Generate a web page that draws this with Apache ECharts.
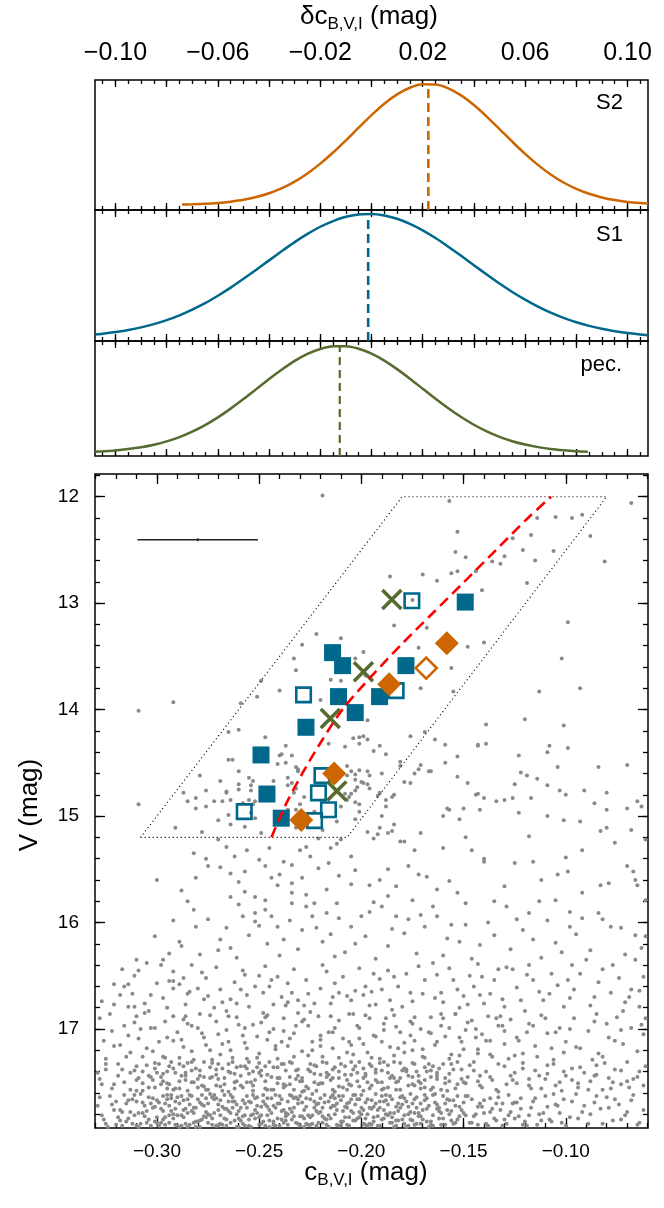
<!DOCTYPE html>
<html>
<head>
<meta charset="utf-8">
<script src="https://cdn.jsdelivr.net/npm/echarts@6/dist/echarts.min.js"></script>
<style>
html, body { margin: 0; padding: 0; background: #fff; }
#chart { width: 664px; height: 1208px; }
</style>
</head>
<body>
<div id="chart"></div>
<script>
// ---------- data ----------

// delta c (mag) distributions, normalised to peak = 1
const s2X = [-0.074, -0.07, -0.065, -0.06, -0.055, -0.05, -0.045, -0.04, -0.035, -0.03, -0.025, -0.02, -0.015, -0.01,
  -0.005, 0, 0.005, 0.01, 0.015, 0.02, 0.025, 0.03, 0.035, 0.04, 0.045, 0.05, 0.055, 0.06, 0.065, 0.07, 0.075, 0.08,
  0.085, 0.09, 0.095, 0.10, 0.105, 0.108]
const s2Y = [0.004, 0.006, 0.010, 0.017, 0.028, 0.043, 0.066, 0.097, 0.139, 0.194, 0.261, 0.342, 0.434, 0.535,
  0.640, 0.743, 0.837, 0.914, 0.969, 0.997, 0.995, 0.964, 0.906, 0.826, 0.731, 0.628, 0.523, 0.423, 0.332, 0.252, 0.186, 0.134,
  0.093, 0.063, 0.041, 0.026, 0.016, 0.012]
const s1X = [-0.108, -0.105, -0.10, -0.095, -0.09, -0.085, -0.08, -0.075, -0.07, -0.065, -0.06, -0.055, -0.05, -0.045,
  -0.04, -0.035, -0.03, -0.025, -0.02, -0.015, -0.01, -0.005, 0, 0.005, 0.01, 0.015, 0.02, 0.025, 0.03, 0.035, 0.04,
  0.045, 0.05, 0.055, 0.06, 0.065, 0.07, 0.075, 0.08, 0.085, 0.09, 0.095, 0.10, 0.105, 0.108]
const s1Y = [0.029, 0.035, 0.048, 0.064, 0.086, 0.112, 0.144, 0.183, 0.229, 0.281, 0.341, 0.406, 0.477, 0.551,
  0.626, 0.701, 0.773, 0.839, 0.897, 0.943, 0.977, 0.996, 1.000, 0.988, 0.961, 0.920, 0.868, 0.806, 0.736, 0.663, 0.587,
  0.512, 0.439, 0.371, 0.309, 0.253, 0.204, 0.162, 0.127, 0.098, 0.074, 0.055, 0.041, 0.029, 0.024]
const pecX = [-0.108, -0.105, -0.10, -0.095, -0.09, -0.085, -0.08, -0.075, -0.07, -0.065, -0.06, -0.055, -0.05, -0.045,
  -0.04, -0.035, -0.03, -0.025, -0.02, -0.015, -0.01, -0.005, 0, 0.005, 0.01, 0.015, 0.02, 0.025, 0.03, 0.035, 0.04,
  0.045, 0.05, 0.055, 0.06, 0.065, 0.07, 0.075, 0.08, 0.0845]
const pecY = [0.012, 0.016, 0.024, 0.037, 0.054, 0.078, 0.109, 0.149, 0.200, 0.261, 0.333, 0.415, 0.504, 0.597,
  0.691, 0.780, 0.861, 0.926, 0.972, 0.997, 0.997, 0.974, 0.928, 0.863, 0.784, 0.695, 0.601, 0.507, 0.418, 0.336, 0.264,
  0.202, 0.151, 0.110, 0.079, 0.055, 0.037, 0.025, 0.016, 0.011]
const peakCentres = [0.0222, -0.0013, -0.0124]
const panelNames = ['S2', 'S1', 'pec.']

const topLabels = [-0.10, -0.06, -0.02, 0.02, 0.06, 0.10]
const cLabels = [-0.30, -0.25, -0.20, -0.15, -0.10]
const vLabels = [12, 13, 14, 15, 16, 17]

// field stars: c_BVI in 1e-3 mag, V in 1e-2 mag, pairs
const fieldStars = [
  // bright part, V < 15.4
  -219,1199,-157,1204,-68,1206,-114,1220,-105,1219,-97,1220,-92,1217,-153,1233,-126,1239,-117,1236,-88,1237,
  -154,1252,-149,1257,-121,1250,-106,1251,-136,1261,-132,1263,-130,1256,-115,1260,-81,1261,-156,1272,-153,1270,
  -144,1270,-170,1273,-163,1279,-186,1275,-119,1281,-141,1288,-175,1297,-99,1318,-184,1321,-168,1323,-222,1329,
  -229,1339,-140,1337,-172,1342,-148,1341,-210,1333,-233,1352,-232,1363,-102,1352,-215,1372,-210,1373,-249,1373,
  -198,1368,-171,1380,-240,1382,-155,1383,-113,1383,-93,1380,-251,1388,-259,1394,-292,1393,-309,1401,-220,1391,
  -207,1395,-197,1410,-120,1409,-101,1415,-139,1414,-260,1419,-265,1421,-247,1426,-204,1427,-201,1426,-208,1435,
  -176,1425,-169,1421,-191,1434,-159,1433,-143,1434,-139,1432,-108,1434,-99,1436,-237,1434,-188,1442,-153,1444,
  -123,1443,-109,1440,-265,1447,-263,1447,-240,1443,-234,1443,-241,1451,-181,1449,-181,1453,-190,1460,-171,1452,
  -166,1458,-84,1454,-104,1454,-153,1463,-122,1459,-260,1458,-279,1462,-232,1454,-231,1458,-207,1453,-201,1457,
  -197,1458,-196,1462,-207,1462,-203,1466,-269,1467,-260,1470,-254,1471,-236,1464,-236,1471,-200,1468,-197,1470,
  -176,1469,-119,1462,-125,1470,-114,1465,-109,1471,-103,1476,-100,1480,-91,1476,-80,1478,-70,1452,-276,1476,
  -287,1478,-285,1486,-281,1483,-272,1486,-268,1486,-266,1478,-254,1476,-252,1486,-233,1478,-228,1482,-208,1479,
  -206,1482,-203,1476,-192,1481,-184,1480,-144,1480,-140,1483,-134,1486,-130,1485,-126,1483,-117,1483,-86,1488,
  -80,1494,-70,1493,-65,1486,-63,1491,-309,1489,-281,1493,-276,1491,-265,1499,-270,1504,-257,1510,-291,1511,
  -278,1515,-254,1497,-236,1494,-232,1505,-201,1496,-190,1500,-157,1494,-150,1493,-142,1494,-123,1497,-109,1500,
  -101,1504,-93,1505,-80,1511,-68,1513,-61,1522,-191,1511,-187,1516,-194,1521,-181,1524,-171,1516,-149,1520,
  -118,1519,-83,1514,-92,1532,-100,1539,-140,1540,-146,1532,-160,1530,-174,1532,-179,1524,-185,1514,-215,1530,
  -219,1513,-210,1522,-205,1538,-230,1532,-225,1538,-245,1530,-250,1541,-256,1532,-262,1538,-266,1529,-270,1522,
  -282,1535,-276,1540,-76,1525,-199,1346,-203,1352,
  -155,1337,-156,1361,-199,1425,-197,1428,-201,1432,-194,1439,-216,1432,-239,1442,-231,1456,-237,1450,-255,1464,
  -260,1475,-253,1467,-243,1467,-234,1469,-232,1474,-258,1488,-255,1485,-253,1489,-264,1485,-266,1477,-205,1458,
  -203,1461,-199,1469,-202,1473,-205,1479,-207,1485,-203,1487,-201,1489,-196,1474,-191,1478,-188,1485,-174,1460,
  -172,1456,-179,1468,-185,1482,-188,1491,-210,1491,-230,1489,-232,1494,-223,1496,-212,1505,-203,1503,-197,1515,
  -192,1517,-184,1508,-252,1502,-264,1508,-249,1516,-232,1511,-227,1529,-221,1521,-212,1526,-160,1500,-152,1503,
  -143,1433,-143,1479,-167,1458,-148,1469,-159,1450,-158,1493,-164,1428,
  // 15.4 - 15.8
  -300,1560,-281,1558,-275,1547,-269,1548,-264,1554,-257,1552,-247,1547,-244,1558,-240,1555,-234,1546,-234,1563,
  -221,1549,-216,1544,-211,1556,-205,1564,-196,1565,-187,1550,-177,1547,-172,1555,-168,1557,-163,1569,-140,1543,
  -125,1544,-116,1543,-112,1560,-104,1555,-99,1552,-83,1565,-79,1563,-70,1547,-67,1552,-65,1565,-61,1579,-264,1576,
  -257,1571,-252,1576,-247,1579,-241,1565,-234,1572,-227,1574,-217,1569,-194,1581,-187,1575,-175,1579,-153,1572,
  -149,1582,-135,1580,-113,1580,-105,1579,-66,1560,-229,1558,-203,1551,-191,1560,-183,1566,-238,1543,-260,1562,
  -288,1570,-157,1561,-130,1566,-92,1572,
  // 15.8 - 16.35
  -285,1580,-282,1588,-281,1604,-289,1618,-288,1622,-294,1629,-297,1635,-305,1638,-310,1635,-269,1616,-270,1626,
  -264,1624,-260,1583,-258,1594,-252,1591,-252,1599,-247,1588,-244,1594,-241,1604,-238,1616,-234,1582,-227,1585,
  -224,1594,-229,1607,-222,1605,-217,1591,-212,1582,-211,1596,-205,1604,-200,1594,-196,1590,-190,1585,-183,1594,
  -177,1597,-171,1593,-169,1604,-163,1594,-158,1615,-152,1618,-149,1602,-142,1621,-135,1612,-129,1585,-124,1597,
  -118,1591,-116,1616,-105,1619,-98,1604,-95,1611,-88,1626,-78,1604,-61,1613,-84,1591,-98,1590,-82,1597,-73,1605,
  -66,1612,-165,1585,-223,1582,-275,1597,-266,1605,-255,1612,-246,1620,-231,1625,-219,1618,-208,1628,-198,1613,
  -187,1622,-179,1610,-173,1629,-160,1631,-146,1634,-138,1600,-127,1625,-112,1633,-102,1628,-92,1596,-71,1630,
  -63,1624,-279,1630,-261,1633,-240,1631,-213,1632,-193,1634,-301,1613,-292,1598,-250,1603,-235,1598,-203,1620,
  -185,1606,-156,1602,-121,1607,-109,1598,-215,1611,
  // 16.35 - 16.9
  -327,1674,-321,1677,-314,1679,-316,1660,-321,1658,-314,1658,-317,1644,-292,1646,-292,1655,-292,1662,-287,1652,
  -284,1665,-280,1662,-276,1652,-275,1669,-269,1663,-264,1672,-261,1676,-255,1679,-252,1660,-248,1666,-244,1654,
  -241,1651,-236,1657,-234,1666,-231,1673,-227,1654,-223,1676,-220,1662,-215,1676,-211,1666,-209,1651,-205,1673,
  -198,1660,-194,1648,-190,1663,-186,1673,-182,1660,-178,1648,-175,1674,-169,1654,-165,1638,-161,1666,-155,1654,
  -150,1669,-145,1660,-140,1676,-135,1654,-130,1679,-126,1644,-122,1673,-116,1654,-111,1673,-107,1648,-101,1679,
  -96,1663,-90,1635,-82,1644,-78,1666,-66,1635,-62,1651,-64,1679,-303,1668,-298,1640,-283,1640,-271,1642,-258,1645,
  -247,1641,-233,1644,-219,1640,-201,1643,-187,1645,-172,1641,-157,1643,-143,1639,-129,1642,-118,1640,-93,1648,
  -74,1652,-306,1676,-295,1680,-286,1677,-272,1680,-262,1656,-239,1670,-228,1678,-213,1657,-196,1678,-180,1679,
  -170,1667,-152,1680,-137,1667,-124,1661,-113,1665,-104,1659,-86,1670,-71,1675,-311,1650,-300,1657,-257,1649,
  -243,1677,-207,1669,-191,1653,-160,1675,-147,1650,-133,1644,-97,1640,-84,1656,-68,1663,
  -318,1668,-309,1645,-297,1671,-289,1658,-278,1647,-268,1675,-259,1663,-250,1650,-237,1678,-226,1667,-217,1646,
  -203,1664,-193,1677,-184,1651,-176,1666,-163,1649,-153,1663,-141,1651,-131,1672,-119,1649,-108,1667,-99,1654,
  -88,1678,-77,1640,-69,1670,-311,1679,-285,1667,-245,1660,-199,1668,-148,1677,
  -323,1686,-312,1667,-304,1683,-294,1655,-286,1688,-277,1672,-266,1683,-256,1668,-246,1687,-236,1675,-225,1684,
  -214,1670,-204,1686,-195,1665,-185,1682,-174,1689,-164,1671,-154,1686,-142,1668,-132,1688,-120,1683,-110,1690,
  -98,1671,-85,1686,-72,1683,-64,1664,
  // 16.82 - 17.30
  -328,1690,-322,1702,-318,1715,-325,1728,-311,1694,-309,1709,-313,1722,-306,1685,-303,1699,-299,1712,-297,1726,
  -292,1688,-290,1703,-287,1717,-285,1695,-282,1729,-279,1686,-277,1708,-274,1720,-271,1693,-268,1714,-266,1701,
  -263,1727,-261,1689,-258,1706,-256,1718,-253,1696,-250,1723,-248,1685,-246,1710,-243,1700,-241,1728,-238,1690,
  -236,1716,-233,1704,-231,1685,-229,1721,-226,1697,-224,1712,-221,1688,-219,1726,-216,1703,-214,1718,-211,1692,
  -209,1709,-206,1686,-204,1724,-201,1699,-199,1714,-196,1690,-194,1706,-191,1728,-189,1695,-186,1717,-184,1687,
  -181,1703,-179,1722,-176,1693,-174,1711,-171,1700,-169,1727,-166,1689,-164,1715,-161,1697,-159,1707,-156,1724,
  -154,1686,-151,1712,-149,1701,-146,1692,-143,1719,-141,1705,-138,1688,-136,1726,-133,1697,-130,1714,-127,1691,
  -124,1708,-121,1723,-118,1695,-115,1716,-112,1687,-109,1704,-106,1729,-103,1699,-100,1712,-96,1690,-93,1718,
  -89,1702,-86,1693,-82,1726,-79,1708,-75,1689,-72,1714,-68,1699,-65,1721,-62,1705,
  -326,1711,-316,1697,-307,1726,-296,1693,-288,1710,-280,1699,-273,1729,-265,1688,-257,1713,-249,1694,-242,1719,
  -235,1709,-228,1691,-220,1710,-213,1699,-205,1715,-198,1687,-190,1712,-183,1698,-175,1720,-167,1703,-160,1690,
  -152,1725,-144,1700,-137,1711,-128,1728,-119,1703,-101,1722,-80,1695,-61,1690,
  -314,1706,-310,1688,-305,1718,-301,1699,-296,1727,-292,1711,-287,1691,-283,1721,-278,1704,-274,1687,-269,1724,
  -265,1712,-260,1696,-256,1728,-251,1707,-247,1689,-242,1716,-238,1702,-233,1726,-229,1693,-224,1720,-220,1706,
  -215,1688,-211,1727,-206,1712,-202,1697,-197,1722,-193,1707,-188,1690,-184,1725,-179,1713,-175,1695,-170,1719,
  -166,1704,-161,1686,-157,1728,-152,1708,-148,1694,-143,1723,-139,1711,-134,1690,-130,1702,-125,1725,-116,1697,
  -107,1718,-98,1700,-87,1729,-76,1711,-63,1696,
  -321,1716,-315,1726,-308,1700,-302,1721,-295,1708,-289,1727,-283,1697,-276,1715,-270,1705,-264,1720,-257,1699,
  -251,1727,-245,1703,-239,1712,-232,1697,-226,1725,-220,1716,-214,1703,-207,1722,-201,1709,-195,1727,-189,1701,
  -182,1718,-176,1706,-170,1726,-163,1712,-157,1699,-150,1719,-144,1708,-137,1724,-131,1697,-123,1711,-114,1726,
  -105,1703,-95,1717,-84,1723,-73,1701,
  // 17.30 - 17.60
  -329,1741,-325,1733,-321,1752,-317,1738,-313,1757,-309,1746,-305,1734,-301,1755,-297,1742,-293,1731,-289,1749,
  -285,1758,-281,1737,-277,1745,-273,1732,-269,1754,-265,1740,-261,1749,-257,1735,-253,1758,-249,1744,-245,1731,
  -241,1751,-237,1739,-233,1757,-229,1746,-225,1733,-221,1752,-217,1741,-213,1736,-209,1755,-205,1743,-201,1731,
  -197,1750,-193,1738,-189,1756,-185,1744,-181,1732,-177,1753,-173,1740,-169,1748,-165,1735,-161,1757,-157,1742,
  -153,1731,-149,1751,-145,1739,-141,1755,-137,1745,-133,1733,-129,1752,-125,1741,-121,1737,-117,1756,-113,1744,
  -109,1734,-105,1753,-101,1740,-97,1748,-93,1736,-89,1757,-85,1743,-81,1732,-77,1750,-73,1739,-69,1755,-65,1745,
  -61,1735,
  -311,1739,-307,1751,-303,1745,-299,1733,-295,1756,-291,1741,-287,1735,-283,1750,-279,1744,-275,1757,-271,1738,
  -267,1746,-263,1731,-259,1753,-255,1742,-251,1736,-247,1749,-243,1757,-239,1733,-235,1745,-231,1738,-227,1754,
  -223,1742,-219,1731,-215,1748,-211,1740,-207,1757,-203,1735,-199,1746,-195,1753,-191,1732,-187,1741,-183,1750,
  -179,1737,-175,1745,-171,1756,-167,1733,-163,1744,-159,1751,-155,1738,-151,1747,-147,1734,-143,1749,
  -327,1752,-319,1744,-310,1758,-302,1748,-294,1752,-286,1744,-278,1753,-270,1747,-262,1756,-254,1750,-246,1743,
  -238,1755,-230,1749,-222,1758,-214,1746,-206,1752,-198,1744,-190,1757,-182,1749,-174,1753,-166,1745,-158,1758,
  -150,1750,-142,1744,-134,1757,-126,1748,-118,1753,-110,1747,-102,1758,-94,1751,-86,1744,-78,1756,-70,1749,-62,1753,
  -328,1747,-325,1738,-322,1756,-319,1733,-316,1750,-313,1741,-310,1735,-307,1758,-304,1744,-301,1737,-298,1752,
  -295,1740,-292,1757,-289,1733,-286,1748,-283,1739,-280,1755,-277,1731,-274,1746,-271,1753,-268,1737,-265,1759,
  -262,1742,-259,1735,-256,1750,-253,1740,-250,1732,-247,1756,-244,1745,-241,1736,-238,1752,-235,1731,-232,1747,
  -229,1759,-226,1738,-223,1750,-220,1743,-217,1732,-214,1757,-211,1746,-208,1735,-205,1753,-202,1741,-199,1758,
  -196,1733,-193,1748,-190,1739,-187,1755,-184,1731,-181,1746,-178,1738,-175,1752,-172,1744,-169,1736,-166,1757,
  -163,1741,-160,1733,-157,1749,-154,1756,-151,1738,-148,1745,-145,1731,-142,1753,-139,1740,-136,1748,-133,1759,
  -130,1735,-127,1744,-124,1751,-121,1732,-118,1747,-115,1739,-112,1756,-109,1742,-106,1733,-103,1750,-100,1744,
  -97,1737,-94,1755,-91,1741,-88,1749,-85,1734,-82,1757,-79,1746,-76,1738,-73,1752,-70,1731,-67,1747,-64,1740,
  -300,1741,-297,1749,-294,1735,-291,1756,-288,1744,-285,1732,-282,1750,-279,1739,-276,1757,-273,1745,-270,1733,
  -267,1752,-264,1741,-261,1736,-258,1755,-255,1731,-252,1748,-249,1739,-246,1757,-243,1736,-240,1746,-237,1753,
  -234,1732,-231,1744,-228,1758,-225,1740,-222,1735,-219,1751,-216,1743,-213,1759,-210,1733,-207,1748,-204,1738,
  -201,1754,-198,1742,-195,1735,-192,1750,-189,1731,-186,1746,-183,1757,-180,1739,-177,1744,-174,1733,-171,1751,
  -168,1740,-165,1755,-162,1737,-159,1746,-156,1733,-153,1752,
  -310,1748,-307,1740,-304,1755,-301,1732,-298,1745,-295,1751,-292,1737,-289,1756,-286,1741,-283,1731,-280,1747,
  -277,1754,-274,1736,-271,1743,-268,1758,-265,1733,-262,1750,-259,1744,-256,1737,-253,1753,-250,1741,-247,1735,
  -244,1757,-241,1746,-238,1733,-235,1752,-232,1739,-229,1749,-226,1756,-223,1734,-220,1751,-217,1745,-214,1738,
  -211,1754,-208,1743,-205,1731,-202,1749,-199,1737,-196,1756,-193,1741,-190,1750,-187,1734,-184,1746,-181,1757,
  -178,1740,-175,1732,-172,1749,-169,1755,-166,1739,-163,1747,
  // 17.60 - 17.93
  -329,1772,-326,1785,-323,1763,-320,1790,-317,1778,-314,1767,-311,1781,-308,1761,-305,1788,-302,1774,-299,1769,
  -296,1783,-293,1765,-290,1791,-287,1776,-284,1762,-281,1787,-278,1771,-275,1780,-272,1766,-269,1789,-266,1775,
  -263,1764,-260,1784,-257,1770,-254,1792,-251,1779,-248,1768,-245,1786,-242,1762,-239,1777,-236,1790,-233,1765,
  -230,1782,-227,1773,-224,1761,-221,1788,-218,1769,-215,1784,-212,1776,-209,1763,-206,1791,-203,1771,-200,1780,
  -197,1766,-194,1787,-191,1774,-188,1762,-185,1783,-182,1770,-179,1789,-176,1778,-173,1764,-170,1785,-167,1772,
  -164,1761,-161,1790,-158,1776,-155,1767,-152,1782,-149,1763,-146,1788,-143,1773,-140,1779,-137,1765,-134,1786,
  -131,1770,-128,1762,-125,1784,-122,1775,-119,1791,-116,1768,-113,1780,-110,1763,-107,1787,-104,1772,-101,1766,
  -98,1783,-95,1761,-92,1778,-89,1789,-86,1769,-83,1775,-80,1764,-77,1786,-74,1771,-71,1781,-68,1767,-65,1790,
  -62,1776,
  -310,1768,-307,1779,-304,1764,-301,1787,-298,1775,-295,1762,-292,1784,-289,1770,-286,1789,-283,1777,-280,1766,
  -277,1782,-274,1761,-271,1791,-268,1773,-265,1768,-262,1786,-259,1774,-256,1763,-253,1780,-250,1790,-247,1771,
  -244,1765,-241,1784,-238,1776,-235,1762,-232,1788,-229,1769,-226,1781,-223,1774,-220,1765,-217,1790,-214,1772,
  -211,1763,-208,1783,-205,1777,-202,1766,-199,1789,-196,1774,-193,1761,-190,1785,-187,1771,-184,1779,-181,1764,
  -178,1792,-175,1770,-172,1782,-169,1767,-166,1787,-163,1775,-160,1763,-157,1780,-154,1772,
  -327,1781,-324,1792,-321,1776,-318,1786,-315,1770,-312,1789,-309,1779,-306,1772,-303,1791,-300,1783,-297,1777,
  -294,1788,-291,1768,-288,1781,-285,1792,-282,1774,-279,1786,-276,1778,-273,1790,-270,1771,-267,1784,-264,1779,
  -261,1792,-258,1767,-255,1785,-252,1776,-249,1789,-246,1781,-243,1772,-240,1791,-237,1779,-234,1785,-231,1770,
  -228,1792,-225,1783,-222,1777,-219,1788,-216,1768,-213,1780,-210,1791,-207,1774,-204,1786,-201,1778,-198,1769,
  -195,1790,-192,1782,-189,1776,-186,1788,-183,1773,-180,1785,-177,1791,-174,1779,-171,1770,-168,1787,-165,1781,
  -162,1774,-159,1790,-156,1777,-153,1785,-150,1769,-147,1788,-144,1780,-141,1773,-138,1791,-135,1784,-132,1776,
  -129,1789,-126,1770,-123,1782,-120,1787,-117,1774,-114,1790,-111,1779,-108,1785,-105,1771,-102,1788,
  -296,1790,-293,1777,-290,1764,-287,1783,-284,1771,-281,1792,-278,1762,-275,1788,-272,1779,-269,1767,-266,1785,
  -263,1774,-260,1792,-257,1781,-254,1769,-251,1764,-248,1787,-245,1776,-242,1791,-239,1766,-236,1780,-233,1774,
  -230,1763,-227,1789,-224,1781,-221,1770,-218,1784,-215,1764,-212,1790,-209,1777,-206,1769,-203,1786,-200,1762,
  -197,1780,-194,1773,-191,1791,-188,1767,-185,1788,-182,1777,-179,1765,-176,1785,-173,1774,
  -328,1764,-325,1789,-322,1771,-319,1783,-316,1762,-313,1778,-310,1791,-307,1769,-304,1785,-301,1773,-298,1788,
  -295,1766,-292,1780,-289,1792,-286,1775,-283,1763,-280,1787,-277,1772,-274,1781,-271,1765,-268,1790,-265,1777,
  -262,1768,-259,1786,-256,1774,-253,1762,-250,1783,-247,1791,-244,1779,-241,1770,-238,1788,-235,1775,-232,1764,
  -229,1782,-226,1790,-223,1768,-220,1778,-217,1785,-214,1762,-211,1791,-208,1773,-205,1766,-202,1784,-199,1776,
  -196,1789,-193,1770,-190,1763,-187,1781,-184,1792,-181,1774,-178,1768,-175,1786,-172,1779,-169,1762,-166,1790,
  -163,1771,-160,1784,-157,1767,-154,1788,-151,1776,-148,1763,-145,1782,-142,1770,-139,1789,-136,1775,-133,1764,
  -130,1785,-127,1778,-124,1769,-121,1790,-118,1781,-115,1765,-112,1786,-109,1773,-106,1761,-103,1779,-100,1791,
  -97,1768,-94,1784,-91,1772,-88,1780,-85,1763,-82,1789,-79,1774,-76,1766,-73,1785,-70,1778,-67,1762,-64,1788,
  -300,1767,-297,1785,-294,1772,-291,1790,-288,1763,-285,1779,-282,1788,-279,1769,-276,1783,-273,1764,-270,1791,
  -267,1775,-264,1762,-261,1780,-258,1789,-255,1768,-252,1784,-249,1773,-246,1765,-243,1787,-240,1770,-237,1782,
  -234,1763,-231,1789,-228,1776,-225,1766,-222,1791,-219,1774,-216,1781,-213,1765,-210,1787,-207,1770,-204,1762,
  -201,1783,-198,1790,-195,1767,-192,1776,-189,1784,-186,1763,-183,1791,-180,1771,-177,1780,-174,1766,-171,1789,
  -168,1775,-165,1762,-162,1784,
  -320,1768,-317,1791,-314,1784,-311,1762,-308,1789,-305,1777,-302,1765,-299,1791,-296,1770,-293,1762,-290,1781,
  -287,1767,-284,1790,-281,1774,-278,1785,-275,1770,-272,1762,-269,1781,-266,1791,-263,1768,-260,1777,-257,1791,
  -254,1781,-251,1772,-248,1762,-245,1792,-242,1774,-239,1785,-236,1768,-233,1782,-230,1791,-227,1765,-224,1789,
  -221,1779,-218,1762,-215,1774,-212,1770,-209,1787,-206,1783,-203,1762,-200,1774,-197,1791,-194,1783,-191,1768,
  -188,1780,-185,1766,-182,1786,-179,1781,-176,1761,-173,1789,-170,1776,-167,1792,-164,1769,-161,1779,-158,1766,
  -155,1789,-152,1773,-149,1781,-146,1766,-143,1790,-140,1767,-137,1778,-134,1770,-131,1791,-128,1781,-125,1769,
  -122,1765,
  -318,1776,-315,1787,-312,1766,-309,1792,-306,1782,-303,1770,-300,1788,-297,1763,-294,1781,-291,1775,-288,1791,
  -285,1766,-282,1779,-279,1792,-276,1765,-273,1784,-270,1776,-267,1762,-264,1788,-261,1771,-258,1782,-255,1791,
  -252,1765,-249,1781,-246,1773,-243,1790,-240,1763,-237,1786,-234,1778,-231,1766,-228,1784,-225,1790,-222,1771,
  -219,1782,-216,1792,-213,1772,-210,1767,-207,1790,-204,1779,-201,1766,-198,1784,-195,1775,-192,1791,-189,1768,
  -186,1779,-183,1786,-180,1763,-177,1773,-174,1790,-171,1782,-168,1765,-165,1791,-162,1777,-159,1770,-156,1786,
  -153,1763,-150,1779
]

// cluster members [c, V]
const s1Filled = [[-0.1492, 12.99], [-0.2141, 13.465], [-0.2092, 13.587], [-0.1782, 13.587], [-0.2112, 13.878],
  [-0.1911, 13.878], [-0.2030, 14.028], [-0.2271, 14.166], [-0.2491, 14.426], [-0.2462, 14.793], [-0.2392, 15.02]]
const s1Open = [[-0.1753, 12.977], [-0.2283, 13.862], [-0.1830, 13.822], [-0.2193, 14.620], [-0.2210, 14.782],
  [-0.2161, 14.94], [-0.2573, 14.958], [-0.2229, 15.043]]
const s2Filled = [[-0.1582, 13.377], [-0.1864, 13.762], [-0.2133, 14.60], [-0.2294, 15.038]]
const s2Open = [[-0.1683, 13.61]]
const pecStars = [[-0.1851, 12.966], [-0.1990, 13.645], [-0.2152, 14.083], [-0.2120, 14.764]]

// fiducial line and selection box
const fidV = [15.2, 14.9, 14.6, 14.3, 14.0, 13.7, 13.4, 13.1, 12.8, 12.5, 12.2, 12.0]
const fidC = [-0.2440, -0.2372, -0.2289, -0.2196, -0.2093, -0.1957, -0.1810, -0.1654, -0.1497, -0.1341, -0.1185, -0.1072]
const boxC = [-0.308, -0.207, -0.080, -0.180, -0.308]
const boxV = [15.2, 15.2, 12.0, 12.0, 15.2]

// typical error bar
const errC = [-0.3095, -0.2506]
const errV = 12.404
const errVHalf = 0.014

// ---------- styling / layout ----------
const BLUE = '#00688b'
const ORANGE = '#cd6600'
const GREEN = '#556b2f'
const GREY = '#8a8a8a'
const FONT = '"Liberation Sans", Arial, Helvetica, sans-serif'

const D_MIN = -0.108, D_MAX = 0.108
const C_MIN = -0.3303, C_MAX = -0.0598
const V_MIN = 11.787, V_MAX = 17.93
const panelYMin = [-0.041, -0.024, -0.028]
const panelYMax = [1.033, 1.032, 1.047]

function stepList(a, b, step) {
  const out = []
  const n = Math.round((b - a) / step)
  for (let i = 0; i <= n; i++) out.push(+(a + i * step).toFixed(4))
  return out
}
const topMajor = stepList(-0.10, 0.10, 0.02)
const topMinor = stepList(-0.105, 0.105, 0.005)
const cMajor = cLabels
const cMinor = stepList(-0.33, -0.06, 0.01)
const vMajor = vLabels
const vMinor = stepList(11.8, 17.8, 0.2)

function signed(v, d) {
  const s = Math.abs(v).toFixed(d)
  return v < -1e-9 ? '\u2212' + s : s
}

const grids = [
  { left: 95, top: 80, width: 553, height: 130 },
  { left: 95, top: 210, width: 553, height: 131 },
  { left: 95, top: 341, width: 553, height: 115 },
  { left: 95, top: 474, width: 553, height: 654 },
].map(g => ({ ...g, show: true, borderColor: '#000', borderWidth: 1.5, backgroundColor: 'transparent' }))

const xAxes = []
const yAxes = []

function addAxis(list, gridIndex, position, min, max, ticks, len, labels, extra) {
  list.push(Object.assign({
    type: 'value', gridIndex, position, min, max,
    axisLine: { show: false, onZero: false },
    splitLine: { show: false },
    axisTick: { show: true, inside: true, length: len, customValues: ticks, lineStyle: { color: '#000', width: 1.3 } },
    axisLabel: labels ? Object.assign({ show: true, customValues: labels, color: '#000', fontFamily: FONT }, extra && extra.label) : { show: false },
  }, extra && extra.axis))
  return list.length - 1
}

const panelX = [], panelY = []
for (let p = 0; p < 3; p++) {
  panelX.push(addAxis(xAxes, p, 'bottom', D_MIN, D_MAX, topMajor, 7))
  addAxis(xAxes, p, 'bottom', D_MIN, D_MAX, topMinor, 4)
  addAxis(xAxes, p, 'top', D_MIN, D_MAX, topMajor, 7, p === 0 ? topLabels : null,
    { label: { fontSize: 25, margin: 14, formatter: v => signed(v, 2) } })
  addAxis(xAxes, p, 'top', D_MIN, D_MAX, topMinor, 4)
  yAxes.push({ type: 'value', gridIndex: p, min: panelYMin[p], max: panelYMax[p], show: false })
  panelY.push(yAxes.length - 1)
}

const mainX = addAxis(xAxes, 3, 'bottom', C_MIN, C_MAX, cMajor, 10, cLabels,
  { label: { fontSize: 19, margin: 14, formatter: v => signed(v, 2) } })
addAxis(xAxes, 3, 'bottom', C_MIN, C_MAX, cMinor, 5)
addAxis(xAxes, 3, 'top', C_MIN, C_MAX, cMajor, 10)
addAxis(xAxes, 3, 'top', C_MIN, C_MAX, cMinor, 5)
const mainY = addAxis(yAxes, 3, 'left', V_MIN, V_MAX, vMajor, 10, vLabels,
  { label: { fontSize: 19, margin: 16, formatter: v => String(Math.round(v)) }, axis: { inverse: true } })
addAxis(yAxes, 3, 'left', V_MIN, V_MAX, vMinor, 5, null, { axis: { inverse: true } })
addAxis(yAxes, 3, 'right', V_MIN, V_MAX, vMajor, 10, null, { axis: { inverse: true } })
addAxis(yAxes, 3, 'right', V_MIN, V_MAX, vMinor, 5, null, { axis: { inverse: true } })

const zip = (xs, ys) => xs.map((x, i) => [x, ys[i]])

const series = []
const curves = [[s2X, s2Y, ORANGE, 9, 2.6], [s1X, s1Y, BLUE, 9, 2.6], [pecX, pecY, GREEN, 8, 2.2]]
curves.forEach(([xs, ys, color, dash, dw], p) => {
  series.push({
    type: 'line', xAxisIndex: panelX[p], yAxisIndex: panelY[p], data: zip(xs, ys),
    smooth: 0.25, showSymbol: false, lineStyle: { color, width: 2.5 },
  })
  series.push({
    type: 'line', xAxisIndex: panelX[p], yAxisIndex: panelY[p],
    data: [[peakCentres[p], panelYMin[p]], [peakCentres[p], 1.0]],
    showSymbol: false, lineStyle: { color, width: dw, type: [dash, 5] },
  })
})

const fieldPts = []
for (let i = 0; i < fieldStars.length; i += 2) fieldPts.push([fieldStars[i] / 1000, fieldStars[i + 1] / 100])

const onMain = { xAxisIndex: mainX, yAxisIndex: mainY }
const solid = c => ({ color: c, opacity: 1 })
series.push({ type: 'scatter', ...onMain, data: fieldPts, symbolSize: 4, itemStyle: solid(GREY) })
series.push({
  type: 'line', ...onMain, data: zip(boxC, boxV), showSymbol: false,
  lineStyle: { color: '#000', width: 1.1, type: [1.1, 2.9] },
})
series.push({ type: 'scatter', ...onMain, data: s1Open, symbol: 'rect', symbolSize: 14.5,
  itemStyle: { color: 'rgba(0,0,0,0)', borderColor: BLUE, borderWidth: 2.6, opacity: 1 } })
series.push({ type: 'scatter', ...onMain, data: s1Filled, symbol: 'rect', symbolSize: 17, itemStyle: solid(BLUE) })
series.push({
  type: 'line', ...onMain, data: zip(fidC, fidV), smooth: 0.3, showSymbol: false,
  lineStyle: { color: '#ff0000', width: 2.6, type: [11, 6] },
})
series.push({ type: 'scatter', ...onMain, data: s2Open, symbol: 'diamond', symbolSize: 21,
  itemStyle: { color: 'rgba(0,0,0,0)', borderColor: ORANGE, borderWidth: 2.6, opacity: 1 } })
series.push({ type: 'scatter', ...onMain, data: s2Filled, symbol: 'diamond', symbolSize: 24, itemStyle: solid(ORANGE) })
series.push({ type: 'scatter', ...onMain, data: pecStars, symbol: 'path://M0,0L10,10M10,0L0,10', symbolSize: 19,
  itemStyle: { color: 'rgba(0,0,0,0)', borderColor: GREEN, borderWidth: 3.6, opacity: 1 } })
series.push({
  type: 'line', ...onMain, data: [[errC[0], errV], [errC[1], errV]], showSymbol: false,
  lineStyle: { color: '#222', width: 1.6 },
})
const errMid = (errC[0] + errC[1]) / 2
series.push({
  type: 'line', ...onMain, data: [[errMid, errV - errVHalf], [errMid, errV + errVHalf]], showSymbol: false,
  lineStyle: { color: '#222', width: 1.6 },
})

// ---------- texts ----------
const measure = document.createElement('canvas').getContext('2d')
function tw(str, size) { measure.font = size + 'px ' + FONT; return measure.measureText(str).width }
function txt(text, x, baseline, size, align, extra) {
  return Object.assign({
    type: 'text', x, y: baseline - 0.31 * size,
    style: { text, font: size + 'px ' + FONT, fill: '#000', align, textAlign: align, verticalAlign: 'middle', textVerticalAlign: 'middle' },
  }, extra)
}
function subTitle(lead, sub, tail, cx, baseline, size, subSize, drop) {
  const w = tw(lead, size) + tw(sub, subSize) + tw(tail, size)
  let x = cx - w / 2
  const out = []
  out.push(txt(lead, x, baseline, size, 'left')); x += tw(lead, size)
  out.push(txt(sub, x, baseline + drop, subSize, 'left')); x += tw(sub, subSize)
  out.push(txt(tail, x, baseline, size, 'left'))
  return out
}

const graphics = [
  ...subTitle('\u03b4c', 'B,V,I', ' (mag)', 369, 25, 26, 17, 5),
  ...subTitle('c', 'B,V,I', ' (mag)', 366, 1181, 26, 17, 5),
  {
    type: 'text', x: 30, y: 805, rotation: Math.PI / 2,
    style: { text: 'V (mag)', font: '26px ' + FONT, fill: '#000', align: 'center', textAlign: 'center', verticalAlign: 'middle', textVerticalAlign: 'middle' },
  },
  txt(panelNames[0], 623, 110, 22, 'right'),
  txt(panelNames[1], 623, 242, 22, 'right'),
  txt(panelNames[2], 622, 372, 22, 'right'),
]

const chart = echarts.init(document.getElementById('chart'), null, { renderer: 'canvas' })
chart.setOption({
  animation: false,
  backgroundColor: '#fff',
  grid: grids,
  xAxis: xAxes,
  yAxis: yAxes,
  series: series.map(s => Object.assign({ silent: true }, s)),
  graphic: graphics,
})
</script>
</body>
</html>
